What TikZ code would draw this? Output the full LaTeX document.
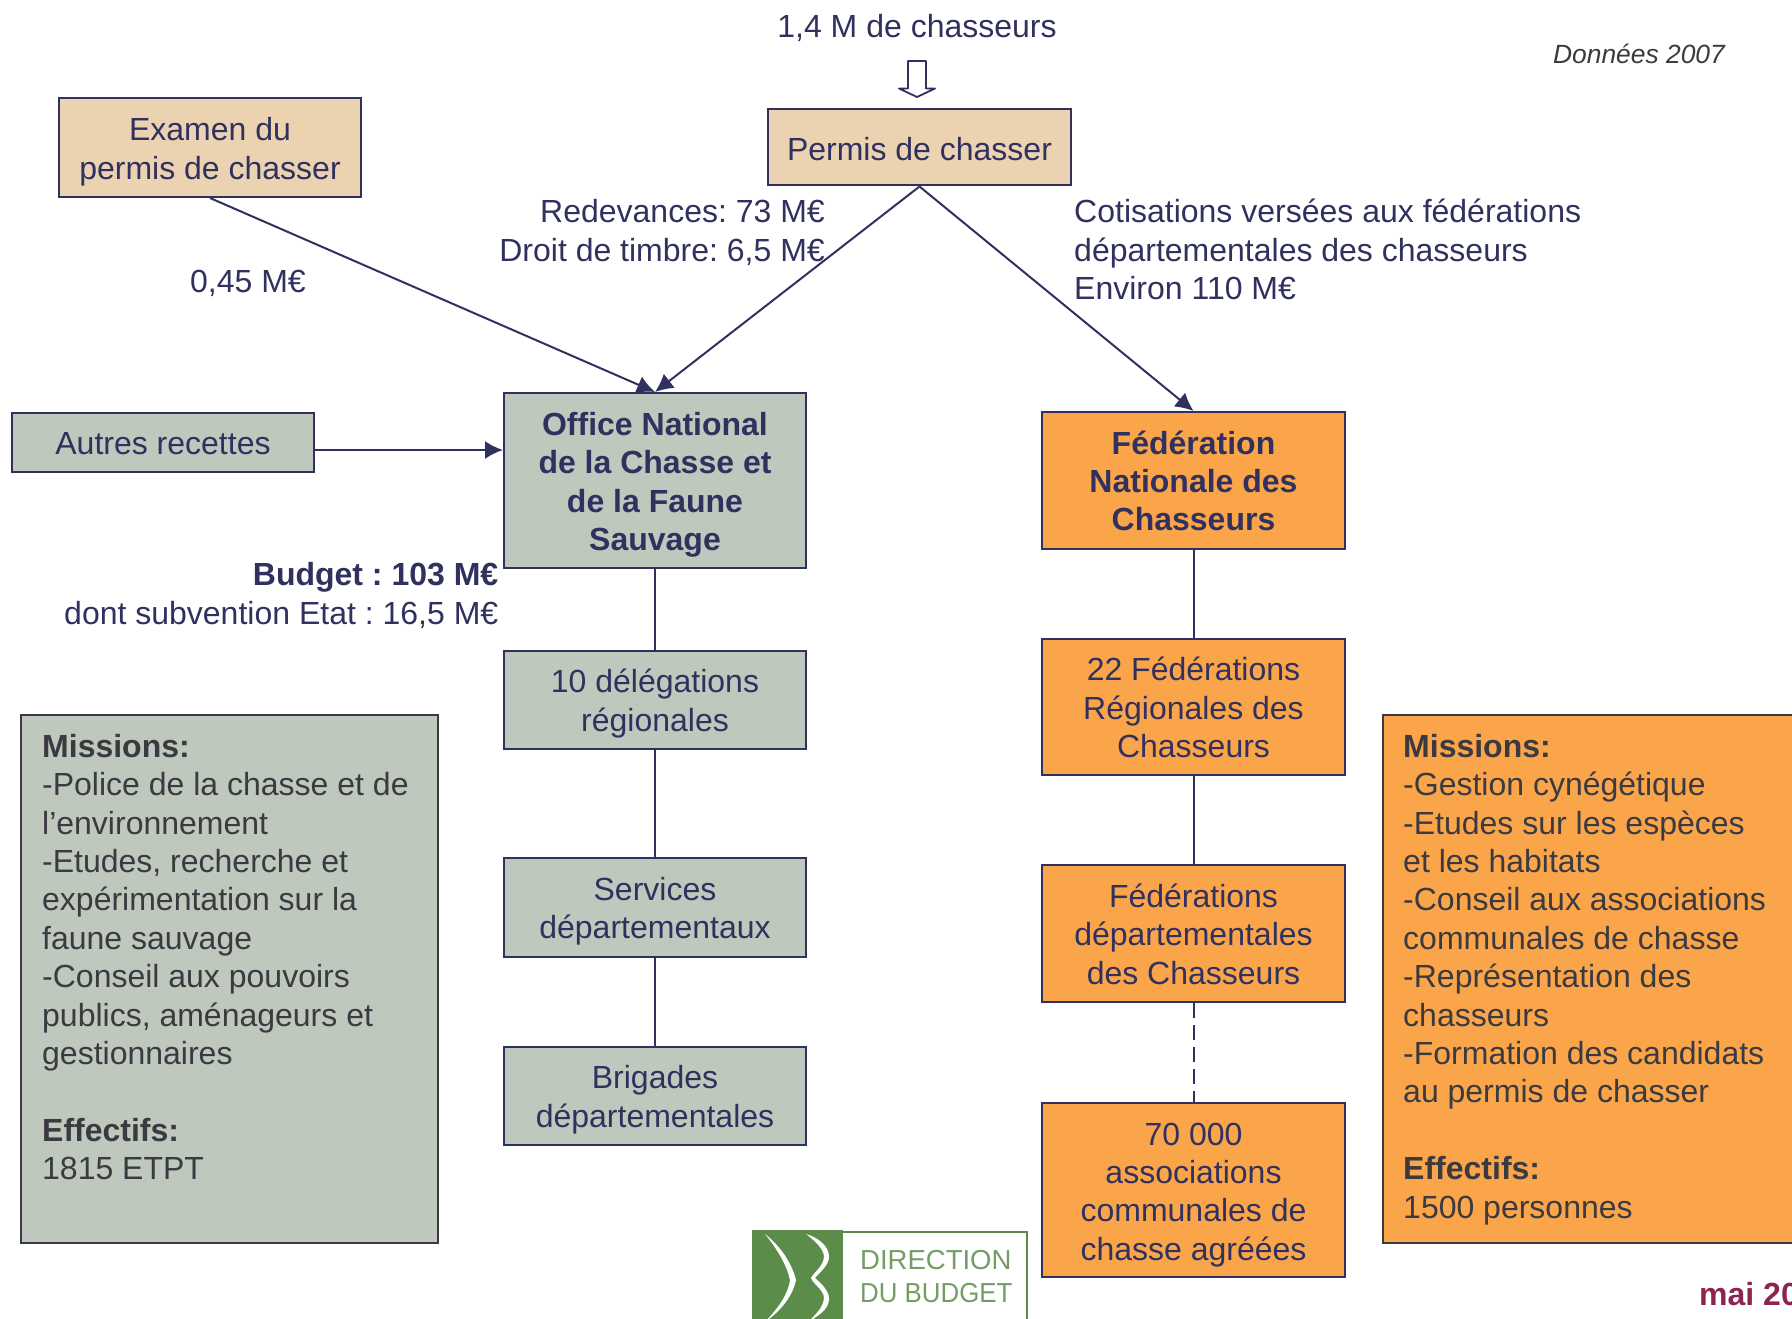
\documentclass[tikz,border=0pt]{standalone}
\usepackage{fontspec}
\setmainfont{Liberation Sans}
\definecolor{navy}{HTML}{31315F}
\definecolor{darkt}{HTML}{3A3A40}
\definecolor{tan}{HTML}{EBD3B2}
\definecolor{sage}{HTML}{BFC8BC}
\definecolor{orangeb}{HTML}{FBA54A}
\definecolor{logog}{HTML}{5B8C4A}
\definecolor{maic}{HTML}{8B2550}
\usetikzlibrary{arrows.meta}
\newcommand\dn[1]{\vrule width0pt height\dimexpr 24pt+#1pt*2\relax depth0pt\relax}
\tikzset{
  x=1pt,y=-1pt,
  txt/.style={font=\fontsize{32}{38.4}\selectfont\frenchspacing,text=navy,inner sep=0pt,align=center},
  bx/.style={txt,draw=navy,line width=2pt,minimum width=#1},
  bbx/.style={bx=#1,font=\fontsize{32}{38.4}\selectfont\bfseries\frenchspacing},
  lnk/.style={draw=navy,line width=2pt},
  arr/.style={lnk,-{Latex[length=18pt,width=18pt]}},
  miss/.style={draw=darkt,line width=2pt,inner sep=0pt},
  misst/.style={font=\fontsize{32}{38.4}\selectfont\frenchspacing,text=darkt,inner sep=0pt,align=left,anchor=north west},
  logot/.style={font=\fontsize{27.5}{33}\selectfont,text=logog!85!white,inner sep=0pt,anchor=base west},
}
\begin{document}
\begin{tikzpicture}
\useasboundingbox (0,0) rectangle (1792,1319);
% boxes
\node[bx=302pt,fill=tan,minimum height=99pt] (examen) at (210,147.5) {\dn{4}Examen du\\permis de chasser};
\node[bx=303pt,fill=tan,minimum height=76pt] (permis) at (919.5,147.5) {\dn{1.5}Permis de chasser};
\node[bbx=302pt,fill=sage,minimum height=175pt] (office) at (655,480.5) {\dn{4}Office National\\de la Chasse et\\de la Faune\\Sauvage};
\node[bx=302pt,fill=sage,minimum height=59pt] (autres) at (163,442) {\dn{0.5}Autres recettes};
\node[bbx=303pt,fill=orangeb,minimum height=137pt] (fnc) at (1193.5,480.5) {\dn{0.2}Fédération\\Nationale des\\Chasseurs};
\node[bx=302pt,fill=sage,minimum height=98pt] (deleg) at (655,700) {\dn{3.5}10 délégations\\régionales};
\node[bx=302pt,fill=sage,minimum height=99pt] (serv) at (655,907.5) {\dn{3.5}Services\\départementaux};
\node[bx=302pt,fill=sage,minimum height=98pt] (brig) at (655,1096) {\dn{3.5}Brigades\\départementales};
\node[bx=303pt,fill=orangeb,minimum height=136pt] (regio) at (1193.5,707) {\dn{0.5}22 Fédérations\\Régionales des\\Chasseurs};
\node[bx=303pt,fill=orangeb,minimum height=137pt] (depart) at (1193.5,933.5) {\dn{0.5}Fédérations\\départementales\\des Chasseurs};
\node[bx=303pt,fill=orangeb,minimum height=174pt] (assoc) at (1193.5,1190) {\dn{4}70 000\\associations\\communales de\\chasse agréées};
% missions
\node[miss,fill=sage,minimum width=417pt,minimum height=528pt] (mleft) at (229.5,979) {};
\node[miss,fill=orangeb,minimum width=417pt,minimum height=528pt] (mright) at (1591.5,979) {};
\node[misst] (mlefttxt) at (42,734) {\textbf{Missions:}\\-Police de la chasse et de\\l’environnement\\-Etudes, recherche et\\expérimentation sur la\\faune sauvage\\-Conseil aux pouvoirs\\publics, aménageurs et\\gestionnaires\\[38.4pt]\textbf{Effectifs:}\\1815 ETPT};
\node[misst] (mrighttxt) at (1403,734) {\textbf{Missions:}\\-Gestion cynégétique\\-Etudes sur les espèces\\et les habitats\\-Conseil aux associations\\communales de chasse\\-Représentation des\\chasseurs\\-Formation des candidats\\au permis de chasser\\[38.4pt]\textbf{Effectifs:}\\1500 personnes};
% labels
\node[txt] (chass) at (917,28) {1,4 M de chasseurs};
\node[font=\fontsize{26.4}{31}\selectfont\itshape,text=darkt,inner sep=0pt] (donnees) at (1639,54) {Données 2007};
\node[txt,align=right,anchor=east] (redev) at (825,232.5) {Redevances: 73 M€\\Droit de timbre: 6,5 M€};
\node[txt,align=left,anchor=west] (cotis) at (1074,249.5) {Cotisations versées aux fédérations\\départementales des chasseurs\\Environ 110 M€};
\node[txt] (m045) at (248,283) {0,45 M€};
\node[txt,align=right,anchor=east] (budget) at (498.5,595.5) {\textbf{Budget : 103 M€}\\dont subvention Etat : 16,5 M€};
\node[font=\fontsize{32}{38}\selectfont\bfseries,text=maic,inner sep=0pt,anchor=base west] (mai) at (1699,1305) {mai 20};
% hollow arrow
\draw[navy,line width=1.8pt,fill=white,line join=round] (908,61) -- (926,61) -- (926,88.5) -- (935,88.5) -- (917,97) -- (899,88.5) -- (908,88.5) -- cycle;
% connectors
\draw[arr] (examen.south) -- (office.north);
\draw[arr] (permis.south) -- (office.north);
\draw[arr] (permis.south) -- (fnc.north);
\draw[arr] (autres.east |- 0,450) coordinate (autresout) -- (office.west |- autresout);
\draw[lnk] (office) -- (deleg);
\draw[lnk] (deleg) -- (serv);
\draw[lnk] (serv) -- (brig);
\draw[lnk] (fnc) -- (regio);
\draw[lnk] (regio) -- (depart);
\draw[lnk,dash pattern=on 14.5pt off 7.5pt] (depart) -- (assoc);
% logo
\node[draw=logog,line width=2pt,fill=white,minimum width=273pt,minimum height=110pt,anchor=north west,inner sep=0pt] (logobox) at (752.5,1230.5) {};
\fill[logog] (752,1230) rectangle (843,1340);
\fill[white] (765,1234) .. controls (785,1250) and (793,1268) .. (796,1280) .. controls (793,1295) and (782,1310) .. (765,1322) .. controls (778,1308) and (788,1295) .. (790,1280) .. controls (787,1266) and (778,1250) .. cycle;
\fill[white] (806,1234) .. controls (820,1238) and (830,1248) .. (829,1258) .. controls (828,1266) and (820,1272) .. (815,1278) .. controls (822,1284) and (830,1292) .. (829,1300) .. controls (828,1310) and (818,1316) .. (808,1322) .. controls (816,1314) and (823,1308) .. (824,1298) .. controls (824,1290) and (813,1284) .. (811,1278) .. controls (814,1272) and (824,1266) .. (824,1256) .. controls (823,1248) and (815,1241) .. cycle;
\node[logot] (ld) at (860,1269) {DIRECTION};
\node[logot] (lb) at (860,1302) {\scalebox{0.94}[1]{DU BUDGET}};
\end{tikzpicture}
\end{document}
